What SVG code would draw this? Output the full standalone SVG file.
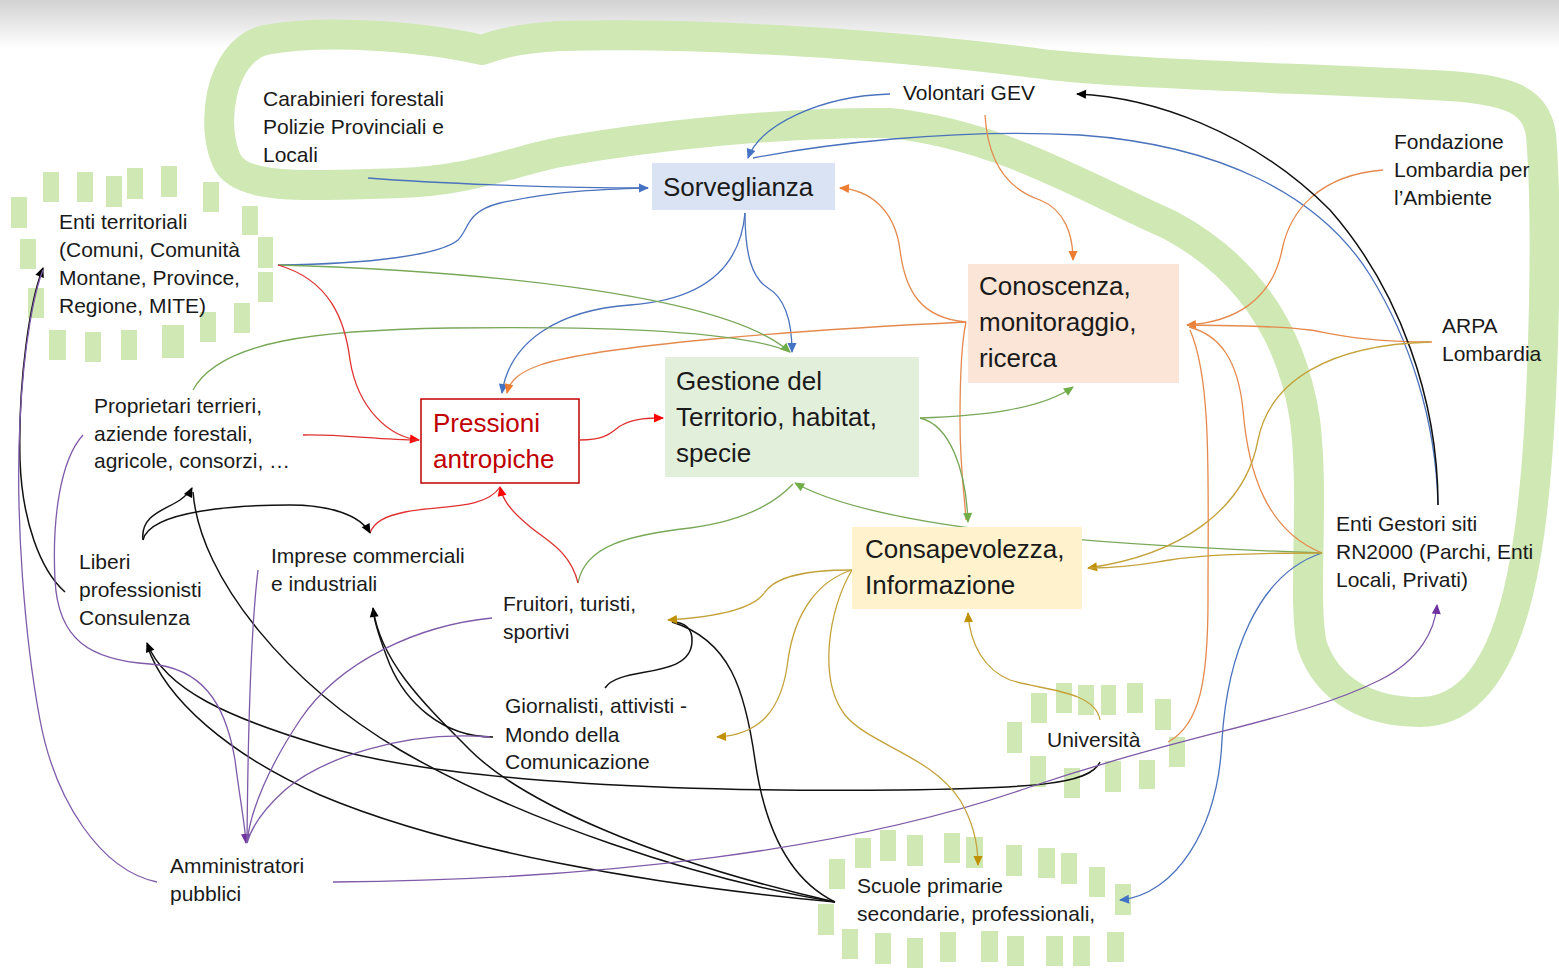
<svg xmlns="http://www.w3.org/2000/svg" width="1559" height="968" viewBox="0 0 1559 968">
<defs>
<linearGradient id="topg" x1="0" y1="0" x2="0" y2="1">
<stop offset="0" stop-color="#d2d2d2"/>
<stop offset="1" stop-color="#ffffff"/>
</linearGradient>
<marker id="aBlue" viewBox="0 0 10 10" refX="9" refY="5" markerWidth="11" markerHeight="10" markerUnits="userSpaceOnUse" orient="auto"><path d="M0,0.5 L10,5 L0,9.5 z" fill="#4472c4"/></marker>
<marker id="aOrange" viewBox="0 0 10 10" refX="9" refY="5" markerWidth="11" markerHeight="10" markerUnits="userSpaceOnUse" orient="auto"><path d="M0,0.5 L10,5 L0,9.5 z" fill="#ed7d31"/></marker>
<marker id="aGreen" viewBox="0 0 10 10" refX="9" refY="5" markerWidth="11" markerHeight="10" markerUnits="userSpaceOnUse" orient="auto"><path d="M0,0.5 L10,5 L0,9.5 z" fill="#70ad47"/></marker>
<marker id="aRed" viewBox="0 0 10 10" refX="9" refY="5" markerWidth="11" markerHeight="10" markerUnits="userSpaceOnUse" orient="auto"><path d="M0,0.5 L10,5 L0,9.5 z" fill="#ff0000"/></marker>
<marker id="aBlack" viewBox="0 0 10 10" refX="9" refY="5" markerWidth="11" markerHeight="10" markerUnits="userSpaceOnUse" orient="auto"><path d="M0,0.5 L10,5 L0,9.5 z" fill="#000000"/></marker>
<marker id="aPurple" viewBox="0 0 10 10" refX="9" refY="5" markerWidth="11" markerHeight="10" markerUnits="userSpaceOnUse" orient="auto"><path d="M0,0.5 L10,5 L0,9.5 z" fill="#7030a0"/></marker>
<marker id="aOlive" viewBox="0 0 10 10" refX="9" refY="5" markerWidth="11" markerHeight="10" markerUnits="userSpaceOnUse" orient="auto"><path d="M0,0.5 L10,5 L0,9.5 z" fill="#bf9000"/></marker>
</defs>
<style>
.t{font-family:"Liberation Sans",Arial,sans-serif;font-size:21px;fill:#1a1a1a}
.b{font-family:"Liberation Sans",Arial,sans-serif;font-size:26px;fill:#1a1a1a}
.c{fill:none;stroke-width:1.3}
.blue{stroke:#4a72bd}
.orange{stroke:#e58a4e}
.green{stroke:#78a858}
.red{stroke:#e03030}
.black{stroke:#111;stroke-width:1.5}
.purple{stroke:#7e5aa8}
.olive{stroke:#c4a23a}
.hl{fill:#cfe8b4}
</style>
<rect x="0" y="0" width="1559" height="968" fill="#ffffff"/>
<rect x="0" y="0" width="1559" height="48" fill="url(#topg)"/>

<g id="highlights">
<path d="M 482,50 C 430,38 330,28 265,40 C 218,52 210,130 228,163 C 245,192 320,185 400,183 C 470,181 510,162 560,152 C 650,136 780,122 890,123 C 1000,135 1080,185 1170,225 C 1250,268 1292,335 1305,420 C 1315,500 1302,600 1312,645 C 1328,692 1370,712 1420,712 C 1480,712 1510,645 1525,560 C 1545,450 1548,220 1541,135 C 1536,98 1505,90 1450,86 C 1300,78 1150,75 1050,65 C 900,45 700,32 560,36 C 520,38 495,45 482,50" fill="none" stroke="#cfe8b4" stroke-width="30" stroke-linecap="round" stroke-linejoin="round"/>
<g id="dash-enti">
<rect class="hl" x="43" y="172" width="16" height="30"/>
<rect class="hl" x="77" y="172" width="16" height="30"/>
<rect class="hl" x="106" y="176" width="16" height="31"/>
<rect class="hl" x="127" y="168" width="16" height="31"/>
<rect class="hl" x="161" y="166" width="16" height="31"/>
<rect class="hl" x="203" y="182" width="16" height="30"/>
<rect class="hl" x="242" y="206" width="16" height="29"/>
<rect class="hl" x="258" y="237" width="15" height="31"/>
<rect class="hl" x="258" y="272" width="15" height="30"/>
<rect class="hl" x="234" y="303" width="16" height="30"/>
<rect class="hl" x="200" y="312" width="16" height="30"/>
<rect class="hl" x="162" y="325" width="22" height="33"/>
<rect class="hl" x="121" y="330" width="16" height="30"/>
<rect class="hl" x="85" y="332" width="16" height="30"/>
<rect class="hl" x="49" y="330" width="17" height="30"/>
<rect class="hl" x="28" y="288" width="16" height="30"/>
<rect class="hl" x="20" y="239" width="16" height="30"/>
<rect class="hl" x="11" y="197" width="16" height="31"/>
</g>
<g id="dash-univ">
<rect class="hl" x="1007" y="722" width="15" height="31"/>
<rect class="hl" x="1031" y="693" width="16" height="30"/>
<rect class="hl" x="1056" y="683" width="16" height="30"/>
<rect class="hl" x="1078" y="685" width="16" height="30"/>
<rect class="hl" x="1101" y="685" width="15" height="30"/>
<rect class="hl" x="1127" y="683" width="16" height="30"/>
<rect class="hl" x="1155" y="699" width="16" height="31"/>
<rect class="hl" x="1169" y="737" width="16" height="30"/>
<rect class="hl" x="1030" y="756" width="16" height="31"/>
<rect class="hl" x="1064" y="768" width="16" height="30"/>
<rect class="hl" x="1105" y="761" width="16" height="31"/>
<rect class="hl" x="1139" y="760" width="16" height="29"/>
</g>
<g id="dash-scuole">
<rect class="hl" x="855" y="838" width="16" height="30"/>
<rect class="hl" x="880" y="830" width="16" height="31"/>
<rect class="hl" x="907" y="835" width="16" height="31"/>
<rect class="hl" x="944" y="833" width="16" height="30"/>
<rect class="hl" x="966" y="837" width="17" height="31"/>
<rect class="hl" x="1006" y="845" width="16" height="31"/>
<rect class="hl" x="1038" y="848" width="17" height="30"/>
<rect class="hl" x="1061" y="853" width="16" height="31"/>
<rect class="hl" x="1089" y="867" width="16" height="30"/>
<rect class="hl" x="1115" y="884" width="16" height="31"/>
<rect class="hl" x="829" y="859" width="16" height="30"/>
<rect class="hl" x="818" y="904" width="16" height="31"/>
<rect class="hl" x="842" y="929" width="16" height="30"/>
<rect class="hl" x="875" y="933" width="16" height="31"/>
<rect class="hl" x="907" y="938" width="16" height="30"/>
<rect class="hl" x="940" y="932" width="16" height="30"/>
<rect class="hl" x="981" y="931" width="17" height="31"/>
<rect class="hl" x="1007" y="936" width="17" height="30"/>
<rect class="hl" x="1046" y="936" width="17" height="30"/>
<rect class="hl" x="1073" y="936" width="17" height="30"/>
<rect class="hl" x="1107" y="932" width="17" height="30"/>
</g>
</g>

<g id="connectors">
<!-- blue -->
<path class="c blue" d="M368,178 C430,183 550,188 648,188" marker-end="url(#aBlue)"/>
<path class="c blue" d="M278,265 C370,264 440,255 458,240 C470,228 465,212 500,203 C560,190 610,189 648,188"/>
<path class="c blue" d="M890,94 C820,96 760,125 748,158" marker-end="url(#aBlue)"/>
<path class="c blue" d="M1438,505 C1436,420 1410,340 1370,275 C1320,195 1220,145 1080,135 C950,128 820,145 753,158"/>
<path class="c blue" d="M745,213 C745,255 752,278 768,288 C788,300 792,330 792,352" marker-end="url(#aBlue)"/>
<path class="c blue" d="M745,213 C740,270 700,300 630,305 C560,310 510,340 502,393" marker-end="url(#aBlue)"/>
<path class="c blue" d="M1322,553 C1255,575 1227,660 1222,740 C1218,830 1175,895 1120,900" marker-end="url(#aBlue)"/>
<!-- orange -->
<path class="c orange" d="M985,115 C988,165 1010,190 1040,200 C1065,210 1073,235 1073,260" marker-end="url(#aOrange)"/>
<path class="c orange" d="M966,322 C920,318 905,290 900,250 C895,210 870,190 840,188" marker-end="url(#aOrange)"/>
<path class="c orange" d="M966,322 C800,330 600,345 540,365 C520,372 510,380 507,393" marker-end="url(#aOrange)"/>
<path class="c orange" d="M966,322 C962,340 960,380 960,420 C960,470 965,500 966,520"/>
<path class="c orange" d="M1383,170 C1320,175 1290,210 1282,250 C1272,300 1235,322 1187,325" marker-end="url(#aOrange)"/>
<path class="c orange" d="M1432,342 C1360,342 1330,333 1310,330 C1270,325 1230,326 1187,325"/>
<path class="c orange" d="M1322,553 C1265,530 1248,470 1243,410 C1238,360 1220,335 1189,327"/>
<path class="c orange" d="M1168,742 C1200,725 1208,680 1208,600 C1208,480 1212,380 1190,330"/>
<!-- green -->
<path class="c green" d="M278,265 C450,270 720,290 790,352" marker-end="url(#aGreen)"/>
<path class="c green" d="M193,390 C220,340 320,330 450,328 C600,326 740,330 790,352"/>
<path class="c green" d="M920,418 C980,416 1040,410 1073,387" marker-end="url(#aGreen)"/>
<path class="c green" d="M920,418 C950,425 966,470 968,522" marker-end="url(#aGreen)"/>
<path class="c green" d="M1322,553 C1100,545 880,530 795,483" marker-end="url(#aGreen)"/>
<path class="c green" d="M578,583 C585,545 630,535 690,528 C750,520 778,500 793,484"/>
<!-- red -->
<path class="c red" d="M278,265 C330,280 345,320 350,360 C358,410 390,437 419,440" marker-end="url(#aRed)"/>
<path class="c red" d="M303,435 C340,434 380,440 419,440"/>
<path class="c red" d="M580,440 C610,440 612,430 622,425 C635,418 650,418 663,418" marker-end="url(#aRed)"/>
<path class="c red" d="M578,583 C570,550 545,540 528,525 C510,510 503,500 500,487" marker-end="url(#aRed)"/>
<path class="c red" d="M500,487 C485,510 440,505 405,512 C385,516 374,522 370,533"/>
<!-- black -->
<path class="c black" d="M1438,505 C1438,400 1400,290 1330,210 C1250,130 1150,97 1077,94" marker-end="url(#aBlack)"/>
<path class="c black" d="M143,540 C140,515 165,510 180,500 C188,494 190,492 192,488" marker-end="url(#aBlack)"/>
<path class="c black" d="M143,540 C150,510 240,505 290,505 C330,505 360,515 370,533" marker-end="url(#aBlack)"/>
<path class="c black" d="M835,902 C700,880 520,820 400,750 C290,685 200,580 193,492"/>
<path class="c black" d="M835,902 C650,860 520,800 470,750 C420,700 380,660 373,608" marker-end="url(#aBlack)"/>
<path class="c black" d="M835,902 C650,885 450,850 320,795 C230,755 165,700 147,645"/>
<path class="c black" d="M1100,762 C1090,785 1030,788 900,790 C700,792 450,785 320,745 C230,718 165,690 147,643" marker-end="url(#aBlack)"/>
<path class="c black" d="M493,737 C440,737 405,700 390,665 C380,640 375,625 373,610"/>
<path class="c black" d="M835,902 C790,880 765,830 755,760 C745,690 730,640 672,622"/>
<path class="c black" d="M605,688 C620,665 690,680 692,642 C693,628 684,622 672,622"/>
<path class="c black" d="M65,592 C40,570 22,520 20,460 C18,380 30,300 43,268" marker-end="url(#aBlack)"/>
<!-- purple -->
<path class="c purple" d="M157,882 C100,870 55,800 40,720 C25,640 15,520 20,420 C24,340 35,290 43,270"/>
<path class="c purple" d="M83,435 C60,460 52,520 55,580 C58,640 90,660 150,664 C200,668 225,700 235,760 C240,800 245,825 246,843" marker-end="url(#aPurple)"/>
<path class="c purple" d="M258,570 C252,620 248,720 247,843"/>
<path class="c purple" d="M492,618 C420,625 340,660 300,720 C270,765 250,810 247,843"/>
<path class="c purple" d="M490,737 C400,730 320,760 285,790 C265,808 252,825 247,843"/>
<path class="c purple" d="M333,882 C600,880 850,850 1030,787 C1200,730 1300,720 1380,680 C1420,660 1435,630 1437,605" marker-end="url(#aPurple)"/>
<!-- olive -->
<path class="c olive" d="M852,570 C800,570 775,578 765,592 C752,612 700,618 668,620" marker-end="url(#aOlive)"/>
<path class="c olive" d="M852,570 C820,580 795,610 788,660 C782,710 760,735 717,737" marker-end="url(#aOlive)"/>
<path class="c olive" d="M852,570 C828,610 818,680 845,715 C870,745 930,755 960,800 C975,825 978,850 978,865" marker-end="url(#aOlive)"/>
<path class="c olive" d="M1100,720 C1095,690 1040,690 1010,680 C985,670 970,645 968,613" marker-end="url(#aOlive)"/>
<path class="c olive" d="M1430,342 C1330,345 1270,380 1258,440 C1245,510 1180,555 1088,568" marker-end="url(#aOlive)"/>
<path class="c olive" d="M1322,553 C1250,553 1200,555 1170,560 C1150,563 1130,568 1090,568"/>
</g>

<g id="sorveglianza">
<rect x="652" y="163" width="183" height="47" fill="#dae3f3"/>
<text class="b" x="663" y="196">Sorveglianza</text>
</g>
<g id="gestione">
<rect x="665" y="357" width="254" height="120" fill="#e2efda"/>
<text class="b" x="676" y="390">Gestione del</text>
<text class="b" x="676" y="426">Territorio, habitat,</text>
<text class="b" x="676" y="462">specie</text>
</g>
<g id="conoscenza">
<rect x="968" y="264" width="211" height="119" fill="#fbe5d6"/>
<text class="b" x="979" y="295">Conoscenza,</text>
<text class="b" x="979" y="331">monitoraggio,</text>
<text class="b" x="979" y="367">ricerca</text>
</g>
<g id="pressioni">
<rect x="421" y="399" width="158" height="84" fill="#ffffff" stroke="#c00000" stroke-width="1.5"/>
<text class="b" x="433" y="432" style="fill:#c00000">Pressioni</text>
<text class="b" x="433" y="468" style="fill:#c00000">antropiche</text>
</g>
<g id="consapevolezza">
<rect x="852" y="527" width="230" height="82" fill="#fff2cc"/>
<text class="b" x="865" y="558">Consapevolezza,</text>
<text class="b" x="865" y="594">Informazione</text>
</g>

<g id="carabinieri">
<text class="t" x="263" y="106">Carabinieri forestali</text>
<text class="t" x="263" y="134">Polizie Provinciali e</text>
<text class="t" x="263" y="162">Locali</text>
</g>
<g id="volontari">
<text class="t" x="903" y="100">Volontari GEV</text>
</g>
<g id="fondazione">
<text class="t" x="1394" y="149">Fondazione</text>
<text class="t" x="1394" y="177">Lombardia per</text>
<text class="t" x="1394" y="205">l’Ambiente</text>
</g>
<g id="arpa">
<text class="t" x="1442" y="333">ARPA</text>
<text class="t" x="1442" y="361">Lombardia</text>
</g>
<g id="enti-gestori">
<text class="t" x="1336" y="531">Enti Gestori siti</text>
<text class="t" x="1336" y="559">RN2000 (Parchi, Enti</text>
<text class="t" x="1336" y="587">Locali, Privati)</text>
</g>
<g id="enti-territoriali">
<text class="t" x="59" y="229">Enti territoriali</text>
<text class="t" x="59" y="257">(Comuni, Comunità</text>
<text class="t" x="59" y="285">Montane, Province,</text>
<text class="t" x="59" y="313">Regione, MITE)</text>
</g>
<g id="proprietari">
<text class="t" x="94" y="413">Proprietari terrieri,</text>
<text class="t" x="94" y="441">aziende forestali,</text>
<text class="t" x="94" y="468">agricole, consorzi, …</text>
</g>
<g id="liberi">
<text class="t" x="79" y="569">Liberi</text>
<text class="t" x="79" y="597">professionisti</text>
<text class="t" x="79" y="625">Consulenza</text>
</g>
<g id="imprese">
<text class="t" x="271" y="563">Imprese commerciali</text>
<text class="t" x="271" y="591">e industriali</text>
</g>
<g id="fruitori">
<text class="t" x="503" y="611">Fruitori, turisti,</text>
<text class="t" x="503" y="639">sportivi</text>
</g>
<g id="giornalisti">
<text class="t" x="505" y="713">Giornalisti, attivisti -</text>
<text class="t" x="505" y="742">Mondo della</text>
<text class="t" x="505" y="769">Comunicazione</text>
</g>
<g id="amministratori">
<text class="t" x="170" y="873">Amministratori</text>
<text class="t" x="170" y="901">pubblici</text>
</g>
<g id="universita">
<text class="t" x="1047" y="747">Università</text>
</g>
<g id="scuole">
<text class="t" x="857" y="893">Scuole primarie</text>
<text class="t" x="857" y="921">secondarie, professionali,</text>
</g>
</svg>
